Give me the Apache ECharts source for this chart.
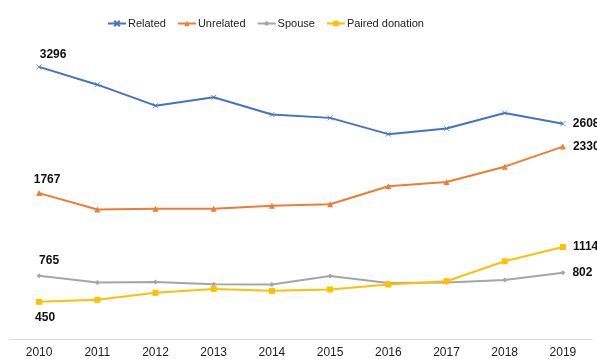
<!DOCTYPE html>
<html>
<head>
<meta charset="utf-8">
<script src="https://cdn.jsdelivr.net/npm/echarts@6/dist/echarts.min.js"></script>
<style>
  html, body { margin: 0; padding: 0; background: #fff; }
  #chart { width: 597px; height: 359px; }
</style>
</head>
<body>
<div id="chart"></div>
<script>
const years = ['2010', '2011', '2012', '2013', '2014', '2015', '2016', '2017', '2018', '2019'];
const related = [3296, 3080, 2826, 2928, 2718, 2678, 2481, 2549, 2738, 2608];
const unrelated = [1767, 1568, 1577, 1577, 1613, 1632, 1849, 1902, 2087, 2330];
const spouse = [765, 684, 691, 663, 660, 764, 679, 684, 715, 802];
const paired = [450, 474, 559, 607, 583, 600, 660, 700, 941, 1114];

const labelFont = {
    color: '#111',
    fontWeight: 'bold',
    fontSize: 12,
    fontFamily: 'Liberation Sans, Arial, sans-serif'
};

// label only the first and the last point
function withEndLabels(values, firstLabel) {
    return values.map((v, i) => {
        if (i === 0) {
            return { value: v, label: Object.assign({ show: true }, labelFont, firstLabel) };
        }
        if (i === values.length - 1) {
            return { value: v, label: Object.assign({ show: true, position: 'right', distance: 7 }, labelFont) };
        }
        return v;
    });
}

const crossPath = 'path://M0,0L10,10M10,0L0,10';

function makeSeries(name, values, color, symbol, size, firstLabel) {
    return {
        name: name,
        type: 'line',
        data: withEndLabels(values, firstLabel),
        symbol: symbol,
        symbolSize: size,
        showSymbol: true,
        lineStyle: { color: color, width: 2 },
        itemStyle: { color: color, borderColor: color, borderWidth: symbol === crossPath ? 0.8 : 0 },
        emphasis: { disabled: true },
        animation: false
    };
}

const chart = echarts.init(document.getElementById('chart'));
chart.setOption({
    animation: false,
    legend: {
        top: 13,
        left: 102,
        itemWidth: 18,
        itemHeight: 7,
        itemGap: 11,
        textStyle: { color: '#222', fontSize: 11, fontFamily: 'Liberation Sans, Arial, sans-serif', padding: [0, 0, 0, -3] }
    },
    grid: { left: 10, right: 5, top: 50, bottom: 19, containLabel: false },
    xAxis: {
        type: 'category',
        data: years,
        boundaryGap: true,
        axisLine: { lineStyle: { color: '#d9d9d9', width: 1 } },
        axisTick: { show: false },
        axisLabel: { color: '#222', fontSize: 12, margin: 8, fontFamily: 'Liberation Sans, Arial, sans-serif' }
    },
    yAxis: {
        type: 'value',
        min: 0,
        max: 3500,
        show: false,
        splitLine: { show: false }
    },
    series: [
        makeSeries('Related', related, '#4472C4', crossPath, 5, { position: 'top', offset: [14, 2] }),
        makeSeries('Unrelated', unrelated, '#ED7D31', 'triangle', 6, { position: 'top', offset: [8, 1] }),
        makeSeries('Spouse', spouse, '#A5A5A5', 'diamond', 5, { position: 'top', offset: [10, -2] }),
        makeSeries('Paired donation', paired, '#FFC000', 'rect', 6, { position: 'bottom', offset: [6, 2] })
    ]
});
</script>
</body>
</html>
